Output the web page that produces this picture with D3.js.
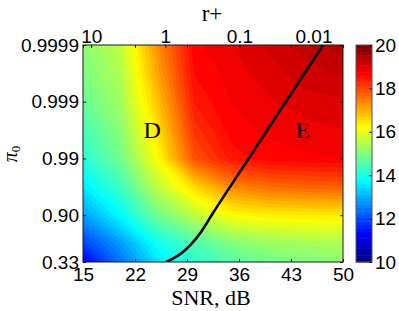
<!DOCTYPE html>
<html>
<head>
<meta charset="utf-8">
<script src="https://cdn.jsdelivr.net/npm/d3@7"></script>
<style>
  body { margin: 0; background: #fff; }
  svg { display: block; }
</style>
</head>
<body>
<svg id="chart" width="399" height="311"></svg>
<script>
// grid columns (SNR, dB) and rows (log10 of 1 - pi0)
const snrCols = [15, 20, 25, 30, 35, 40, 45, 50];
const logRows = [-4, -3.5, -3, -2.5, -2, -1.5, -1, -0.5, -0.174];
const gainGrid = [
  [15.1, 15.6, 17.3, 18.7, 18.9, 19.1, 19.3, 19.45],
  [14.95, 15.45, 17.1, 18.6, 18.82, 19.0, 19.15, 19.25],
  [14.75, 15.3, 16.8, 18.45, 18.76, 18.88, 19.0, 19.05],
  [14.45, 15.1, 16.5, 18.2, 18.68, 18.78, 18.85, 18.9],
  [14.15, 14.85, 16.2, 17.9, 18.5, 18.68, 18.72, 18.75],
  [13.6, 14.35, 15.6, 16.6, 17.4, 17.65, 17.75, 17.8],
  [12.85, 13.75, 14.85, 15.6, 16.2, 16.35, 16.4, 16.4],
  [11.9, 12.8, 13.9, 14.5, 15.0, 15.25, 15.35, 15.45],
  [11.2, 12.4, 13.5, 14.2, 14.6, 14.85, 15.0, 15.1]
];

// D / E boundary
const boundarySnr = [26.17, 28.46, 30.75, 32.5, 37.88, 42.46, 47.31];
const boundaryPi0 = [0.33, 0.5539, 0.7895, 0.9084, 0.9923, 0.99907, 0.9999];

const regionNames = ["D", "E"];
const regionSnr = [24.3, 44.6];
const regionPi0 = [0.99684, 0.99684];

const snrTicks = [15, 22, 29, 36, 43, 50];
const pi0Ticks = [0.33, 0.90, 0.99, 0.999, 0.9999];
const pi0Labels = ["0.33", "0.90", "0.99", "0.999", "0.9999"];
const rTicks = [10, 1, 0.1, 0.01];
const rAtSnrEnds = [12.9, 0.004];   // r+ at SNR = 15 and SNR = 50
const cbarTicks = [10, 12, 14, 16, 18, 20];

const svg = d3.select("#chart");
const pLeft = 83, pTop = 45, pRight = 343, pBottom = 262;
const sans = "'Liberation Sans', Arial, Helvetica, sans-serif";
const serif = "'Liberation Serif', 'Times New Roman', serif";
const axisColor = "#1a1a1a";

const x = d3.scaleLinear().domain([15, 50]).range([pLeft, pRight]);
const y = d3.scaleLog().domain([1 - 0.9999, 1 - 0.33]).range([pTop, pBottom]);
const rScale = d3.scaleLog().domain(rAtSnrEnds).range([pLeft, pRight]);

// jet colormap, 64 levels like matlab
const jet = d3.scaleLinear()
    .domain([0, 0.125, 0.375, 0.625, 0.875, 1])
    .range(["#000080", "#0000ff", "#00ffff", "#ffff00", "#ff0000", "#800000"])
    .interpolate(d3.interpolateRgb);
const nLevels = 64, cmin = 10, cmax = 20;
const levelColor = k => jet(k / (nLevels - 1));
const thresholds = d3.range(nLevels).map(k => cmin + k * (cmax - cmin) / nLevels);

svg.append("defs").append("clipPath").attr("id", "plotclip")
  .append("rect").attr("x", pLeft).attr("y", pTop)
  .attr("width", pRight - pLeft).attr("height", pBottom - pTop);

const plot = svg.append("g").attr("clip-path", "url(#plotclip)");

// filled contour bands
const contours = d3.contours()
    .size([snrCols.length, logRows.length])
    .thresholds(thresholds)(gainGrid.flat());

const colIdx = d3.scaleLinear().domain(d3.range(snrCols.length)).range(snrCols);
const rowIdx = d3.scaleLinear().domain(d3.range(logRows.length)).range(logRows);
const proj = d3.geoTransform({
  point(cx, cy) {
    this.stream.point(x(colIdx(cx - 0.5)), y(Math.pow(10, rowIdx(cy - 0.5))));
  }
});
const path = d3.geoPath(proj);

plot.selectAll("path.band")
  .data(contours)
  .join("path")
    .attr("class", "band")
    .attr("d", path)
    .attr("fill", (d, i) => levelColor(i));

// boundary curve
const boundary = boundarySnr.map((s, i) => ({ snr: s, pi0: boundaryPi0[i] }));
plot.append("path")
  .datum(boundary)
  .attr("fill", "none")
  .attr("stroke", "#000")
  .attr("stroke-width", 2.6)
  .attr("d", d3.line()
    .x(d => x(d.snr))
    .y(d => y(1 - d.pi0))
    .curve(d3.curveMonotoneX));

// region letters
svg.selectAll("text.region")
  .data(regionNames)
  .join("text")
    .attr("class", "region")
    .attr("x", (d, i) => x(regionSnr[i]))
    .attr("y", (d, i) => y(1 - regionPi0[i]))
    .attr("dy", "0.35em")
    .attr("text-anchor", "middle")
    .style("font-family", serif)
    .style("font-size", "24px")
    .text(d => d);

// box
svg.append("rect")
  .attr("x", pLeft).attr("y", pTop)
  .attr("width", pRight - pLeft).attr("height", pBottom - pTop)
  .attr("fill", "none").attr("stroke", axisColor).attr("stroke-width", 1);

function styleAxis(g) {
  g.select(".domain").remove();
  g.selectAll(".tick line").attr("stroke", axisColor);
  g.selectAll(".tick text")
    .attr("fill", "#000")
    .style("font-family", sans)
    .style("font-size", "19px");
}

// bottom SNR axis
svg.append("g")
  .attr("transform", `translate(0,${pBottom})`)
  .call(d3.axisBottom(x).tickValues(snrTicks).tickSize(-3).tickPadding(6).tickFormat(d3.format("d")))
  .call(styleAxis);

// mirrored SNR ticks on top
svg.append("g")
  .attr("transform", `translate(0,${pTop})`)
  .call(d3.axisTop(x).tickValues(snrTicks).tickSize(-3).tickFormat(""))
  .call(styleAxis);

// top r+ axis
svg.append("g")
  .attr("transform", `translate(0,${pTop})`)
  .call(d3.axisTop(rScale).tickValues(rTicks).tickSize(-3).tickPadding(2).tickFormat(d => String(d)))
  .call(styleAxis);

// left pi0 axis
svg.append("g")
  .attr("transform", `translate(${pLeft},0)`)
  .call(d3.axisLeft(y).tickValues(pi0Ticks.map(p => 1 - p)).tickSize(-3).tickPadding(4)
    .tickFormat((d, i) => pi0Labels[i]))
  .call(styleAxis);

// mirrored on right
svg.append("g")
  .attr("transform", `translate(${pRight},0)`)
  .call(d3.axisRight(y).tickValues(pi0Ticks.map(p => 1 - p)).tickSize(-3).tickFormat(""))
  .call(styleAxis);

// axis titles
svg.append("text")
  .attr("x", 212).attr("y", 21)
  .attr("text-anchor", "middle")
  .style("font-family", serif).style("font-size", "23px")
  .text("r+");

svg.append("text")
  .attr("x", 211).attr("y", 305)
  .attr("text-anchor", "middle")
  .style("font-family", serif).style("font-size", "22px")
  .text("SNR, dB");

const ylab = svg.append("text")
  .attr("transform", "translate(17,154) rotate(-90)")
  .attr("text-anchor", "middle")
  .style("font-family", serif).style("font-size", "20px");
ylab.append("tspan").style("font-style", "italic").text("π");
ylab.append("tspan").attr("dy", "3").style("font-size", "13px").text("0");

// colorbar
const cbX = 356, cbW = 16;
const cScale = d3.scaleLinear().domain([cmin, cmax]).range([pBottom, pTop]);
svg.append("g").selectAll("rect")
  .data(d3.range(nLevels))
  .join("rect")
    .attr("x", cbX)
    .attr("width", cbW)
    .attr("y", k => cScale(cmin + (k + 1) * (cmax - cmin) / nLevels))
    .attr("height", k => cScale(cmin + k * (cmax - cmin) / nLevels) - cScale(cmin + (k + 1) * (cmax - cmin) / nLevels) + 0.5)
    .attr("fill", k => levelColor(k));

svg.append("rect")
  .attr("x", cbX).attr("y", pTop)
  .attr("width", cbW).attr("height", pBottom - pTop)
  .attr("fill", "none").attr("stroke", "#555").attr("stroke-width", 1);

svg.append("g")
  .attr("transform", `translate(${cbX + cbW},0)`)
  .call(d3.axisRight(cScale).tickValues(cbarTicks).tickSize(-3).tickPadding(3).tickFormat(d3.format("d")))
  .call(styleAxis);
</script>
</body>
</html>
